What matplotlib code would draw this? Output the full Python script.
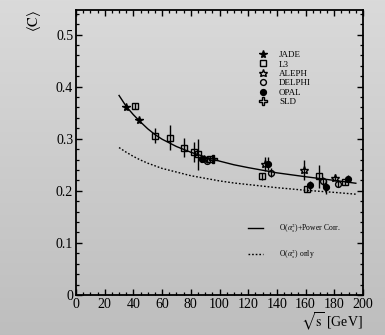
import numpy as np
import matplotlib
matplotlib.use("Agg")
import matplotlib.pyplot as plt
from matplotlib.lines import Line2D
from matplotlib.ticker import MultipleLocator

plt.rcParams["font.family"] = ["Liberation Serif", "DejaVu Serif"]
plt.rcParams["mathtext.fontset"] = "stix"

# Mean C-parameter measurements per experiment: sqrt(s) [GeV], <C>, error
jade_e = [35.0, 44.0]
jade_c = [0.361, 0.335]
jade_err = [0.003, 0.003]

l3_e = [41.1, 55.3, 65.4, 75.5, 82.3, 84.8, 93.4, 129.8, 161.2, 169.5, 187.5]
l3_c = [0.363, 0.306, 0.302, 0.283, 0.274, 0.270, 0.262, 0.228, 0.203, 0.228, 0.216]
l3_err = [0.006, 0.014, 0.024, 0.018, 0.019, 0.030, 0.004, 0.007, 0.006, 0.022, 0.005]

aleph_e = [89.4, 131.7, 158.9, 180.5]
aleph_c = [0.262, 0.251, 0.2395, 0.2255]
aleph_err = [0.003, 0.013, 0.019, 0.006]

delphi_e = [91.0, 135.9, 171.8, 182.3]
delphi_c = [0.257, 0.235, 0.218, 0.214]
delphi_err = [0.003, 0.009, 0.008, 0.006]

opal_e = [87.6, 133.6, 163.0, 174.0, 189.3]
opal_c = [0.262, 0.252, 0.211, 0.2075, 0.2235]
opal_err = [0.003, 0.013, 0.007, 0.014, 0.006]

sld_e = [95.7]
sld_c = [0.262]
sld_err = [0.004]

# QCD predictions
fit_e = [30, 35, 40, 45, 50, 55, 60, 70, 80, 90, 100, 110, 120, 140, 160, 180, 195]
fit_power = [0.383, 0.362, 0.346, 0.332, 0.319, 0.308, 0.299, 0.285, 0.274, 0.265,
             0.257, 0.250, 0.2445, 0.2345, 0.227, 0.220, 0.2145]
fit_pert = [0.283, 0.274, 0.266, 0.259, 0.253, 0.248, 0.243, 0.236, 0.229, 0.224,
            0.219, 0.215, 0.212, 0.206, 0.201, 0.197, 0.1935]

W, H = 385, 335
fig = plt.figure(figsize=(W / 100, H / 100), dpi=100)

# soft vertical grey gradient behind everything
bg = fig.add_axes([0, 0, 1, 1], zorder=-10)
grad = np.linspace(0.855, 0.745, 256).reshape(-1, 1)
bg.imshow(np.dstack([grad, grad, grad]), aspect="auto", extent=[0, 1, 0, 1])
bg.axis("off")

ax = fig.add_axes([76 / W, 1 - 295 / H, 287 / W, 285.5 / H])
ax.patch.set_alpha(0)

dots = (0, (1.2, 1.4))
ax.plot(fit_e, fit_power, color="black", lw=1.0, zorder=2)
ax.plot(fit_e, fit_pert, color="black", lw=1.0, ls=dots, zorder=2)

ms = 4.2
series = [
    ("JADE", jade_e, jade_c, jade_err, dict(marker="*", mfc="black", mec="black", ms=ms + 1.5)),
    ("L3", l3_e, l3_c, l3_err, dict(marker="s", mfc="none", mec="black", ms=ms)),
    ("ALEPH", aleph_e, aleph_c, aleph_err, dict(marker="*", mfc="none", mec="black", ms=ms + 2)),
    ("DELPHI", delphi_e, delphi_c, delphi_err, dict(marker="o", mfc="none", mec="black", ms=ms)),
    ("OPAL", opal_e, opal_c, opal_err, dict(marker="o", mfc="black", mec="black", ms=ms)),
    ("SLD", sld_e, sld_c, sld_err, dict(marker="P", mfc="none", mec="black", ms=ms + 1)),
]
handles = []
for name, e, c, err, style in series:
    ax.errorbar(e, c, yerr=err, fmt="none", ecolor="black", elinewidth=1.0, capsize=0, zorder=3)
    ax.plot(e, c, ls="none", mew=1.0, zorder=4, **style)
    handles.append(Line2D([], [], ls="none", mew=1.0, label=name, **style))

leg1 = ax.legend(handles=handles, loc="upper left", bbox_to_anchor=(0.635, 0.855),
                 frameon=False, fontsize=6.5, handlelength=1.0, handletextpad=1.3,
                 labelspacing=0.12, borderpad=0, borderaxespad=0)
ax.add_artist(leg1)

line_handles = [
    Line2D([], [], color="black", lw=1.0, label=r"O($\alpha_s^2$)+Power Corr."),
    Line2D([], [], color="black", lw=1.0, ls=dots, label=r"O($\alpha_s^2$) only"),
]
ax.legend(handles=line_handles, loc="upper left", bbox_to_anchor=(0.598, 0.258),
          frameon=False, fontsize=5.5, handlelength=2.0, handletextpad=2.1,
          labelspacing=1.6, borderpad=0, borderaxespad=0)

ax.set_xlim(0, 200)
ax.set_ylim(0, 0.548)
ax.xaxis.set_major_locator(MultipleLocator(20))
ax.xaxis.set_minor_locator(MultipleLocator(5))
ax.yaxis.set_minor_locator(MultipleLocator(0.02))
ax.set_yticks([0, 0.1, 0.2, 0.3, 0.4, 0.5])
ax.set_yticklabels(["0", "0.1", "0.2", "0.3", "0.4", "0.5"])
ax.tick_params(which="both", direction="in", top=True, right=True, labelsize=10, pad=2)
ax.tick_params(which="major", length=4.2, width=1.0)
ax.tick_params(which="minor", length=2.3, width=0.9)
for s in ax.spines.values():
    s.set_linewidth(1.3)

ax.set_xlabel(r"$\sqrt{\mathrm{s}}$ [GeV]", fontsize=10, loc="right", labelpad=0)
ax.set_ylabel(r"$\langle\mathrm{C}\rangle$", fontsize=10.5, loc="top", labelpad=9)

fig.savefig("out.png", dpi=100)
